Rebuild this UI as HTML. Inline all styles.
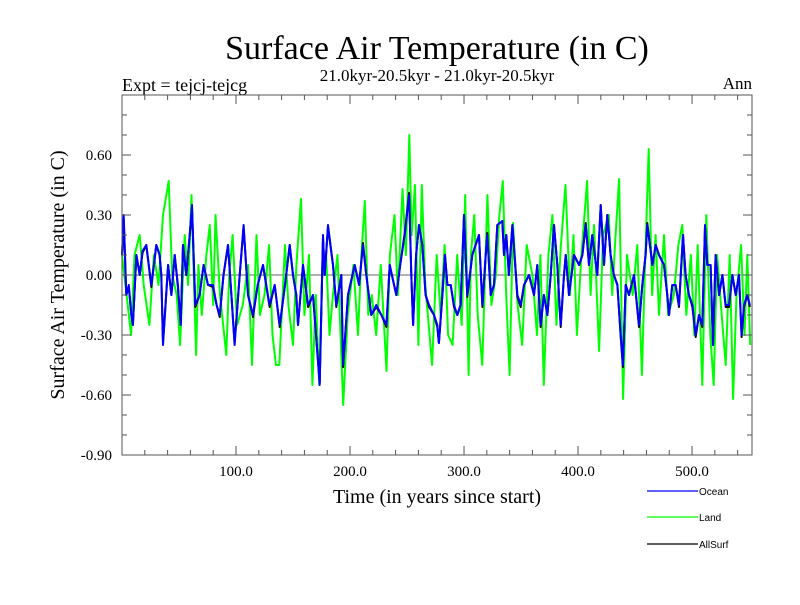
<!DOCTYPE html>
<html><head><meta charset="utf-8"><style>
body{margin:0;background:#fff;width:800px;height:600px;overflow:hidden}
svg text{font-family:"Liberation Serif",serif;fill:#000}
</style></head><body>
<svg id="chart" width="800" height="600" xmlns="http://www.w3.org/2000/svg">
<text x="437" y="59" font-size="34" text-anchor="middle">Surface Air Temperature (in C)</text>
<text x="437" y="81" font-size="17" text-anchor="middle">21.0kyr-20.5kyr - 21.0kyr-20.5kyr</text>
<text x="122" y="91" font-size="18">Expt = tejcj-tejcg</text>
<text x="752" y="89" font-size="17" text-anchor="end">Ann</text>
<text transform="translate(64,275) rotate(-90)" font-size="20" text-anchor="middle">Surface Air Temperature (in C)</text>
<text x="437" y="503" font-size="20" text-anchor="middle">Time (in years since start)</text>
<g id="grid"></g>
<g id="series"></g>
<rect x="122" y="95" width="630" height="360" fill="none" stroke="#555" stroke-width="1"/>
<g id="axes"></g>
<g>
<line x1="647" y1="491" x2="698" y2="491" stroke="#0000ff" stroke-width="1.2"/>
<text x="699" y="495" font-size="10" style="font-family:'Liberation Sans',sans-serif">Ocean</text>
<line x1="647" y1="517" x2="698" y2="517" stroke="#00ff00" stroke-width="1.2"/>
<text x="699" y="521" font-size="10" style="font-family:'Liberation Sans',sans-serif">Land</text>
<line x1="647" y1="544" x2="698" y2="544" stroke="#000" stroke-width="1.2"/>
<text x="699" y="548" font-size="10" style="font-family:'Liberation Sans',sans-serif">AllSurf</text>
</g>
</svg>
<script>
const xTicks=[100,200,300,400,500];
const xTickLabels=["100.0","200.0","300.0","400.0","500.0"];
const yTicks=[-0.9,-0.6,-0.3,0,0.3,0.6];
const yTickLabels=["-0.90","-0.60","-0.30","0.00","0.30","0.60"];
const oceanYears=[0,1.5,3.8,6,8.2,9.6,12.6,15.5,18,21.3,25.7,28,30.1,33,34.5,36,40.4,43.3,46.2,49,51.5,53.5,56.4,59.4,61.4,64.3,68.1,71.6,75.4,79.8,83,85.7,89,93,96,98.8,103.2,106.7,110.5,114.9,119,123.7,129.5,133.9,138.3,143,147.1,150,152.9,154.4,158.8,163.2,167.5,173.4,176.3,177.8,180.7,185.1,188,192.4,193.9,198.2,204.1,208,211.4,214.3,218.7,223.1,227.5,231.9,234.8,240.6,244,248,251.8,253.8,255.3,258,260.5,263.4,266.3,269.3,273.7,276.6,278,281,283.3,285.4,288.3,291.2,294.1,297,300,302.9,307.3,310.2,313.1,316.1,319,320.4,323.4,326.3,329.2,333.6,335.1,337.1,339.4,342.4,346.8,349.7,352.6,357,361.4,364.3,367.2,370.1,373.1,376,378.9,381.8,384.8,387.7,389.2,392.1,396.5,400.9,403.8,406.7,409.6,412.5,416.9,419.9,422.8,425.7,428.6,431.5,434.5,437.4,439.4,441.8,444.7,449.1,453.5,456.4,459.3,460.8,465.2,468.1,471,475.4,478.3,479.8,482.7,485.6,488.6,492.1,494.4,497.3,500.3,503.2,506.1,509,511.4,513.4,516.3,518.4,520.7,523.7,526.6,529.5,532.4,535.4,538.3,541.2,543.5,545.6,548.5,550.8];
const ocean=[0.1,0.3,-0.1,-0.05,-0.2,-0.25,0.1,0.0,0.12,0.15,-0.05,0.05,0.15,0.1,0.0,-0.35,0.05,-0.1,0.1,-0.05,-0.25,0.15,0.0,0.2,0.35,-0.15,-0.1,0.05,-0.05,-0.05,-0.15,-0.2,0.0,0.15,-0.1,-0.35,0.0,0.25,-0.1,-0.2,-0.05,0.05,-0.15,-0.05,-0.25,-0.05,0.15,0.0,-0.1,-0.25,0.05,-0.15,-0.1,-0.55,0.2,0.0,0.25,0.05,-0.15,0.0,-0.45,-0.1,0.05,-0.05,0.15,0.0,-0.2,-0.15,-0.2,-0.25,0.05,-0.1,0.05,0.2,0.4,0.0,-0.25,0.1,0.25,0.15,-0.1,-0.15,-0.2,-0.25,-0.34,-0.1,0.1,-0.05,-0.05,-0.15,-0.2,-0.15,0.3,-0.1,0.1,0.15,0.2,-0.15,0.1,0.2,-0.1,-0.05,0.25,0.27,0.1,0.2,0.0,0.25,-0.1,-0.15,-0.05,0.0,-0.1,0.05,-0.25,-0.1,-0.2,0.0,0.25,0.05,-0.25,0.0,0.1,-0.1,0.1,0.05,0.1,0.25,0.05,0.2,0.0,0.35,0.05,0.3,0.1,0.0,-0.05,-0.3,-0.45,-0.05,-0.1,0.0,-0.25,-0.05,0.1,0.25,0.05,0.15,0.1,0.05,-0.1,-0.2,-0.05,-0.05,-0.15,0.2,0.0,-0.1,-0.15,-0.3,-0.2,-0.25,0.25,0.05,0.05,-0.35,0.1,-0.1,0.0,-0.15,-0.15,0.0,-0.1,0.0,-0.3,-0.15,-0.1,-0.15];
const allSurf=[0.1,0.28,-0.1,-0.06,-0.2,-0.25,0.1,0.0,0.11,0.15,-0.06,0.05,0.15,0.1,0.0,-0.34,0.05,-0.1,0.1,-0.06,-0.25,0.15,0.0,0.2,0.34,-0.16,-0.1,0.05,-0.05,-0.06,-0.15,-0.21,0.0,0.15,-0.1,-0.34,0.0,0.24,-0.1,-0.21,-0.05,0.05,-0.16,-0.05,-0.26,-0.05,0.15,0.0,-0.1,-0.25,0.05,-0.16,-0.1,-0.54,0.19,0.0,0.24,0.05,-0.16,0.0,-0.46,-0.1,0.05,-0.05,0.16,0.0,-0.2,-0.16,-0.2,-0.26,0.05,-0.1,0.05,0.21,0.41,0.0,-0.25,0.1,0.25,0.15,-0.1,-0.16,-0.2,-0.26,-0.34,-0.1,0.1,-0.05,-0.05,-0.16,-0.2,-0.15,0.3,-0.11,0.1,0.15,0.2,-0.16,0.1,0.21,-0.1,-0.05,0.25,0.27,0.1,0.2,0.0,0.25,-0.11,-0.16,-0.05,0.0,-0.1,0.05,-0.26,-0.1,-0.2,0.0,0.25,0.05,-0.26,0.0,0.1,-0.1,0.1,0.05,0.1,0.26,0.05,0.2,0.0,0.35,0.05,0.3,0.1,0.0,-0.05,-0.31,-0.46,-0.05,-0.1,0.0,-0.26,-0.05,0.1,0.26,0.05,0.15,0.1,0.05,-0.1,-0.2,-0.05,-0.05,-0.16,0.2,0.0,-0.1,-0.16,-0.31,-0.2,-0.26,0.24,0.05,0.05,-0.35,0.1,-0.1,0.0,-0.16,-0.16,0.0,-0.1,0.0,-0.31,-0.16,-0.1,-0.16];
const landYears=[0,4,8,11,15.5,19,24,28,32,36,41,44,48,51,55,58,61,65,67,70,74,77,80,82,86,91.5,94,97,101,106,110.5,114,118,121,125,129,132,135,138,143,146,150,153,157,160,164,167,170,173,176,179,182,185,189,194,198,203,207,210,213,216,219,223,227,232,235,239,242,246,249,252,254,257,260,263,266,269,272,276,279.5,283,286,290,294,298,301,304,306,309,312,316,320.5,324,328,331,334,337,340,343,347,351,355,360,364,367,370,374,377.5,381,385,389,393,396,399,403,408,411,414,418.5,422,427,430,433,436,439.5,443,448,452,456,459,462,465,468,471,475.4,479,484,488,491.5,495,499,502,505,509,512.5,516,519,522,526,529.5,533,536,539,543,546,548.5,551];
const land=[0.1,-0.1,-0.3,0.1,0.2,-0.05,-0.25,0.1,-0.05,0.3,0.47,0.0,-0.1,-0.35,0.2,-0.05,0.4,-0.4,0.05,-0.2,0.1,0.25,-0.15,0.3,-0.1,-0.4,0.0,0.2,-0.25,-0.15,0.05,-0.45,0.2,-0.2,-0.1,0.15,-0.3,-0.45,-0.45,0.15,-0.15,-0.35,0.05,0.38,-0.2,0.1,-0.55,-0.1,-0.55,0.1,0.1,-0.3,-0.1,0.1,-0.65,-0.2,0.05,-0.3,0.1,0.37,-0.2,-0.1,-0.3,0.05,-0.48,0.1,0.3,-0.1,0.43,0.1,0.7,0.2,0.45,-0.35,0.45,-0.05,-0.25,-0.45,0.1,-0.2,0.15,-0.3,-0.35,0.1,-0.25,0.4,-0.5,0.1,0.3,-0.2,-0.45,0.4,-0.15,0.0,0.3,0.47,-0.1,-0.5,0.26,-0.15,-0.35,0.15,0.0,-0.3,0.1,-0.55,0.1,0.3,-0.25,0.15,0.45,-0.1,0.2,-0.3,0.1,0.47,-0.1,0.25,-0.38,0.2,0.3,-0.1,0.2,0.48,-0.62,0.1,-0.1,0.15,-0.5,0.1,0.63,-0.1,0.2,-0.2,0.2,-0.2,-0.1,0.15,0.25,-0.2,0.1,-0.3,0.15,-0.55,0.3,-0.3,-0.55,0.1,-0.2,-0.45,0.1,-0.62,-0.1,0.15,-0.3,0.1,-0.35];

const NS='http://www.w3.org/2000/svg';
const X0=122,X1=752,Y0=95,Y1=455,YMIN=-0.9,YMAX=0.9,XA=0,XB=552.6;
function xs(v){return X0+(v-XA)/(XB-XA)*(X1-X0);}
function ys(v){return Y1-(v-YMIN)/(YMAX-YMIN)*(Y1-Y0);}
function mk(tag,attrs,parent){const e=document.createElementNS(NS,tag);for(const k in attrs)e.setAttribute(k,attrs[k]);parent.appendChild(e);return e;}
const axes=document.getElementById('axes'),grid=document.getElementById('grid'),ser=document.getElementById('series');
const zl=mk('line',{x1:X0,x2:X1,y1:ys(0),y2:ys(0),stroke:'#666','stroke-width':1},grid);


for(let t=20;t<XB;t+=20){
  const major=t%100===0;const L=major?9:5;
  const a=mk('line',{x1:xs(t),x2:xs(t),y1:Y1,y2:Y1-L,stroke:'#555'},axes);
  
  
  const b=mk('line',{x1:xs(t),x2:xs(t),y1:Y0,y2:Y0+L,stroke:'#555'},axes);
  
  
}
for(let i=-8;i<=8;i++){
  const v=i/10;const major=i%3===0;const L=major?9:5;
  const a=mk('line',{x1:X0,x2:X0+L,y1:ys(v),y2:ys(v),stroke:'#555'},axes);
  
  
  const b=mk('line',{x1:X1,x2:X1-L,y1:ys(v),y2:ys(v),stroke:'#555'},axes);
  
  
}
xTicks.forEach((t,i)=>{
  const tx=mk('text',{x:xs(t),y:476,'font-size':15,'text-anchor':'middle'},axes);
  tx.textContent=xTickLabels[i];
  
  
});
yTicks.forEach((t,i)=>{
  const tx=mk('text',{x:112,y:ys(t)+5,'font-size':15,'text-anchor':'end'},axes);
  tx.textContent=yTickLabels[i];
  
  
});
function line(xsArr,vals,color,w,name){
  const d=vals.map((v,i)=>(i?'L':'M')+xs(xsArr[i]).toFixed(1)+' '+ys(v).toFixed(1)).join('');
  const p=mk('path',{d:d,fill:'none',stroke:color,'stroke-width':w,'stroke-linejoin':'round'},ser);
  
  
}
line(landYears,land,'#00ff00',2,'land-line');
line(oceanYears,allSurf,'#000000',2,'allsurf-line');
line(oceanYears,ocean,'#0000ff',2,'ocean-line');
</script>
</body></html>
